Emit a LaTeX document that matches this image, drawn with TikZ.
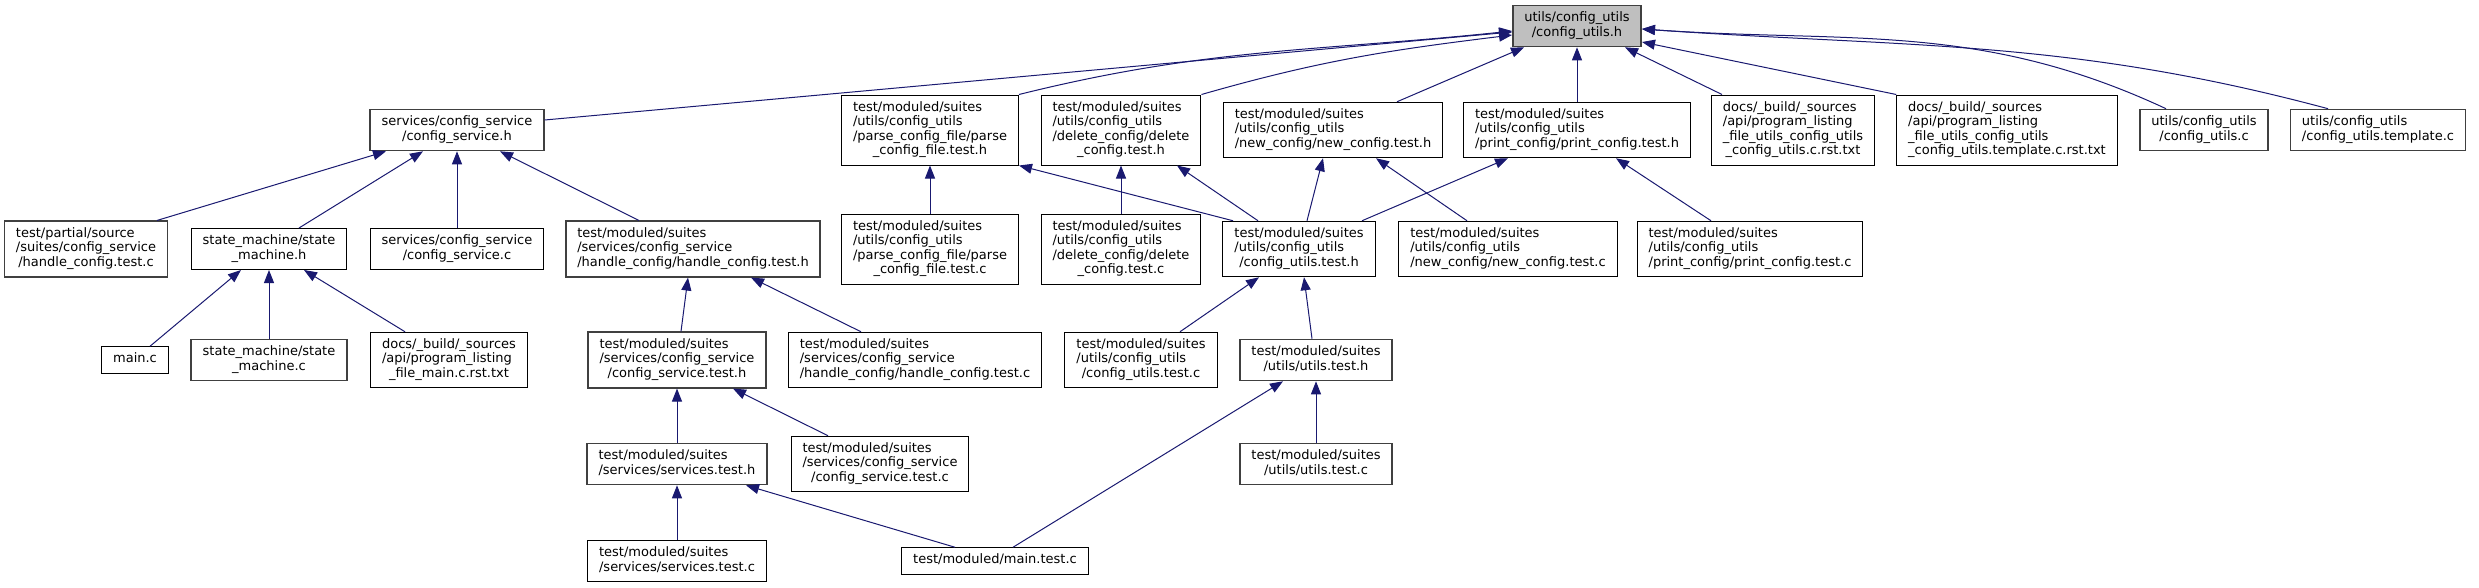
\documentclass[tikz,border=0pt]{standalone}
\usepackage{fontspec}
\setmainfont{DejaVu Sans}
\usetikzlibrary{arrows.meta}
\definecolor{incblue}{HTML}{191970}
\definecolor{curfill}{HTML}{BFBFBF}
\definecolor{nodoc}{HTML}{404040}
% label lines: left aligned, last line centred
\newcommand{\flines}[2]{\begin{tabular}{@{}l@{}}#1\\\multicolumn{1}{@{}c@{}}{#2}\end{tabular}}

\begin{document}
\begin{tikzpicture}[
x=1pt, y=1pt,
every node/.style={font=\fontsize{13}{14.5}\selectfont},
file/.style={draw=black, line width=1pt, fill=white, inner xsep=11.5pt, inner ysep=6pt},
grayfile/.style={file, draw=nodoc, line width=1.6pt},
cur/.style={grayfile, fill=curfill},
inc/.style={draw=incblue, line width=1pt, -{Triangle[length=13pt,width=10pt]}}
]
\useasboundingbox (0,0) rectangle (2479,-587);

% the file itself
\node[cur] (cuh) at (1577,-26) {\flines{utils/config\_utils}{/config\_utils.h}};

% direct includers
\node[grayfile] (csh) at (457,-130) {\flines{services/config\_service}{/config\_service.h}};
\node[file] (pcfh) at (930,-130) {\flines{test/moduled/suites\\/utils/config\_utils\\/parse\_config\_file/parse}{\_config\_file.test.h}};
\node[file] (dch) at (1121,-130) {\flines{test/moduled/suites\\/utils/config\_utils\\/delete\_config/delete}{\_config.test.h}};
\node[file] (nch) at (1333,-130) {\flines{test/moduled/suites\\/utils/config\_utils}{/new\_config/new\_config.test.h}};
\node[file] (prh) at (1577,-130) {\flines{test/moduled/suites\\/utils/config\_utils}{/print\_config/print\_config.test.h}};
\node[file] (docc) at (1793,-130) {\flines{docs/\_build/\_sources\\/api/program\_listing\\\_file\_utils\_config\_utils}{\_config\_utils.c.rst.txt}};
\node[file] (doct) at (2007,-130) {\flines{docs/\_build/\_sources\\/api/program\_listing\\\_file\_utils\_config\_utils}{\_config\_utils.template.c.rst.txt}};
\node[grayfile] (cuc) at (2204,-130) {\flines{utils/config\_utils}{/config\_utils.c}};
\node[grayfile] (cut) at (2378,-130) {\flines{utils/config\_utils}{/config\_utils.template.c}};

\node[grayfile] (phc) at (86,-249) {\flines{test/partial/source\\/suites/config\_service}{/handle\_config.test.c}};
\node[file] (smh) at (269,-249) {\flines{state\_machine/state}{\_machine.h}};
\node[file] (csc) at (457,-249) {\flines{services/config\_service}{/config\_service.c}};
\node[grayfile] (hch) at (693,-249) {\flines{test/moduled/suites\\/services/config\_service}{/handle\_config/handle\_config.test.h}};
\node[file] (pcfc) at (930,-249) {\flines{test/moduled/suites\\/utils/config\_utils\\/parse\_config\_file/parse}{\_config\_file.test.c}};
\node[file] (dcc) at (1121,-249) {\flines{test/moduled/suites\\/utils/config\_utils\\/delete\_config/delete}{\_config.test.c}};
\node[file] (cuth) at (1299,-249) {\flines{test/moduled/suites\\/utils/config\_utils}{/config\_utils.test.h}};
\node[file] (ncc) at (1508,-249) {\flines{test/moduled/suites\\/utils/config\_utils}{/new\_config/new\_config.test.c}};
\node[file] (prc) at (1750,-249) {\flines{test/moduled/suites\\/utils/config\_utils}{/print\_config/print\_config.test.c}};

\node[file] (mainc) at (135,-360) {\strut main.c};
\node[grayfile] (smc) at (269,-360) {\flines{state\_machine/state}{\_machine.c}};
\node[file] (docm) at (449,-360) {\flines{docs/\_build/\_sources\\/api/program\_listing}{\_file\_main.c.rst.txt}};
\node[grayfile] (csth) at (677,-360) {\flines{test/moduled/suites\\/services/config\_service}{/config\_service.test.h}};
\node[file] (hcc) at (915,-360) {\flines{test/moduled/suites\\/services/config\_service}{/handle\_config/handle\_config.test.c}};
\node[file] (cutc) at (1141,-360) {\flines{test/moduled/suites\\/utils/config\_utils}{/config\_utils.test.c}};
\node[grayfile] (uth) at (1316,-360) {\flines{test/moduled/suites}{/utils/utils.test.h}};

\node[grayfile] (sth) at (677,-464) {\flines{test/moduled/suites}{/services/services.test.h}};
\node[file] (cstc) at (880,-464) {\flines{test/moduled/suites\\/services/config\_service}{/config\_service.test.c}};
\node[grayfile] (utc) at (1316,-464) {\flines{test/moduled/suites}{/utils/utils.test.c}};

\node[file] (stc) at (677,-561) {\flines{test/moduled/suites}{/services/services.test.c}};
\node[file] (mtc) at (995,-561) {\strut test/moduled/main.test.c};

% includes of config_utils.h
\draw[inc] ([yshift=10pt]csh.east) -- ([yshift=-6pt]cuh.west);
\draw[inc] (pcfh.north east) to[out=14,in=186] ([yshift=-5pt]cuh.west);
\draw[inc] (dch.north east) to[out=16,in=187] ([yshift=-9pt]cuh.west);
\draw[inc] ([xshift=64pt]nch.north) -- ([xshift=-53pt]cuh.south);
\draw[inc] (prh) -- (cuh);
\draw[inc] ([xshift=-71pt]docc.north) -- ([xshift=48pt]cuh.south);
\draw[inc] (doct.north west) -- ([yshift=-16pt]cuh.east);
\draw[inc] ([xshift=-38pt]cuc.north) to[out=155,in=-4] ([yshift=-3pt]cuh.east);
\draw[inc] ([xshift=-50pt]cut.north) to[out=165,in=-4] ([yshift=-3pt]cuh.east);

% lower levels
\draw[inc] ([xshift=71pt]phc.north) -- ([xshift=-71pt]csh.south);
\draw[inc] ([xshift=30pt]smh.north) -- ([xshift=-34pt]csh.south);
\draw[inc] (csc) -- (csh);
\draw[inc] ([xshift=-54pt]hch.north) -- ([xshift=43pt]csh.south);
\draw[inc] ([xshift=15pt]mainc.north) -- ([xshift=-28pt]smh.south);
\draw[inc] (smc) -- (smh);
\draw[inc] ([xshift=-44pt]docm.north) -- ([xshift=35pt]smh.south);
\draw[inc] ([xshift=4pt]csth.north) -- ([xshift=-5pt]hch.south);
\draw[inc] ([xshift=-54pt]hcc.north) -- ([xshift=58pt]hch.south);
\draw[inc] (sth) -- (csth);
\draw[inc] ([xshift=-52pt]cstc.north) -- ([xshift=56pt]csth.south);
\draw[inc] (stc) -- (sth);
\draw[inc] ([xshift=-40pt]mtc.north) -- ([xshift=69pt]sth.south);
\draw[inc] (pcfc) -- (pcfh);
\draw[inc] ([xshift=-66pt]cuth.north) -- (pcfh.south east);
\draw[inc] (dcc) -- (dch);
\draw[inc] ([xshift=-41pt]cuth.north) -- ([xshift=56pt]dch.south);
\draw[inc] ([xshift=8pt]cuth.north) -- ([xshift=-10pt]nch.south);
\draw[inc] ([xshift=-41pt]ncc.north) -- ([xshift=43pt]nch.south);
\draw[inc] ([xshift=63pt]cuth.north) -- ([xshift=-69pt]prh.south);
\draw[inc] ([xshift=-39pt]prc.north) -- ([xshift=39pt]prh.south);
\draw[inc] ([xshift=39pt]cutc.north) -- ([xshift=-40pt]cuth.south);
\draw[inc] ([xshift=-4pt]uth.north) -- ([xshift=5pt]cuth.south);
\draw[inc] (utc) -- (uth);
\draw[inc] ([xshift=18pt]mtc.north) -- ([xshift=-33pt]uth.south);
\end{tikzpicture}
\end{document}
